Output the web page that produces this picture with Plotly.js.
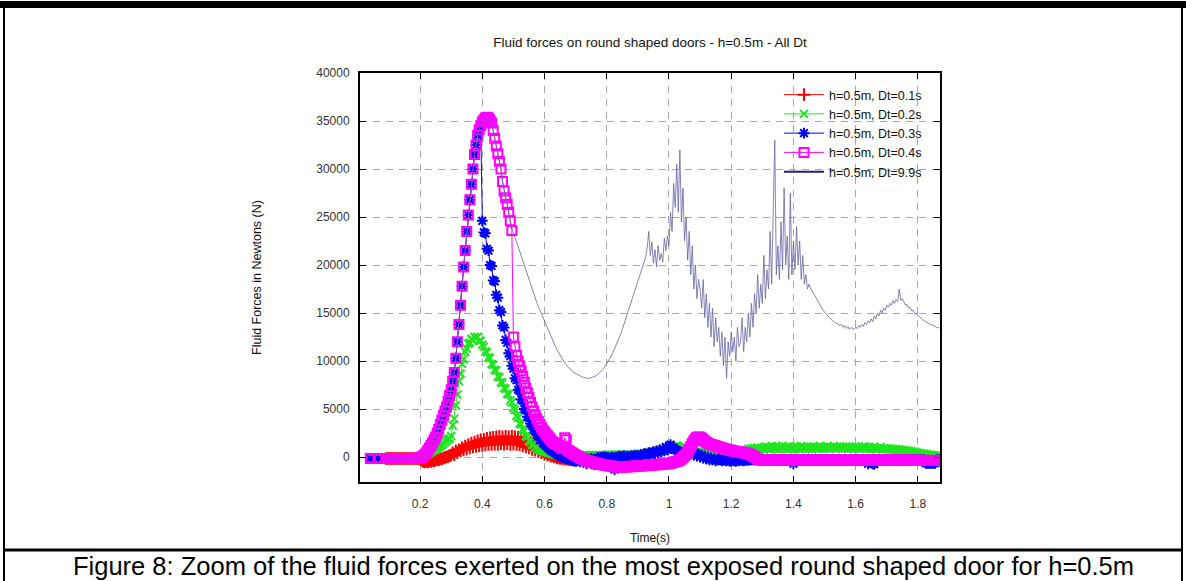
<!DOCTYPE html>
<html>
<head>
<meta charset="utf-8">
<script src="https://cdn.plot.ly/plotly-3.0.1.min.js"></script>
<style>
html,body{margin:0;padding:0;background:#ffffff;}
#chart{width:1186px;height:581px;}
</style>
</head>
<body>
<div id="chart"></div>
<script>
// ---- data (time samples start at timeStart, spaced by timeStep seconds) ----
const timeStart = 0.03;
const timeStep = 0.005;

const seriesNames = ["h=0.5m, Dt=0.1s", "h=0.5m, Dt=0.2s", "h=0.5m, Dt=0.3s", "h=0.5m, Dt=0.4s", "h=0.5m, Dt=9.9s"];

const xTickVals = [0.2, 0.4, 0.6, 0.8, 1.0, 1.2, 1.4, 1.6, 1.8];
const xTickText = ["0.2", "0.4", "0.6", "0.8", "1", "1.2", "1.4", "1.6", "1.8"];
const yTickVals = [0, 5000, 10000, 15000, 20000, 25000, 30000, 35000, 40000];
const yTickText = ["0", "5000", "10000", "15000", "20000", "25000", "30000", "35000", "40000"];

// Dt = 0.1 s (red)
const forceDt01 = [
null,null,null,null,null,null,null,null,null,null,null,null,-150,-150,
-150,-150,-150,-150,-150,-150,-150,-150,-150,-150,-150,-150,-150,-150,-150,-150,-150,-150,-150,-150,
-200,-350,-450,-500,-450,-500,-400,-450,-350,-400,-300,-250,-300,-150,-200,-100,-50,0,50,150,
200,450,250,650,450,750,650,950,750,1150,850,1300,950,1450,1050,1550,1100,1700,1150,1800,
1200,1850,1250,1950,1300,2000,1300,2050,1350,2100,1300,2150,1400,2100,1350,2150,1400,2100,1300,2150,
1350,2100,1300,2050,1250,2000,1150,1850,1050,1700,950,1500,800,1300,700,1050,550,800,450,600,
300,450,200,300,100,150,0,50,-100,-50,-150,-100,-200,-150,-250,-200,-300,-250,-300,-300,
-300
];

// Dt = 0.2 s (green)
const forceDt02 = [
null,null,null,null,null,null,null,null,null,null,null,null,-150,-150,
-150,-150,-150,-150,-150,-150,-150,-150,-150,-150,-150,-150,-150,-150,-150,-150,-150,-150,-150,-150,
-100,0,100,150,250,350,450,550,650,750,850,950,1050,1150,1250,1400,1550,1700,1850,1900,
2200,3300,4000,5400,6500,7900,8700,9700,10200,11000,11300,11800,11900,12300,12200,12500,12400,12500,12100,12100,
11700,11500,11000,10900,10400,10300,9700,9600,9100,9000,8400,8300,7800,7700,7200,7100,6600,6500,5900,5700,
5100,4900,4300,4100,3500,3400,2900,2700,2200,2100,1700,1600,1300,1250,1000,1000,800,800,650,650,
600,550,500,450,400,350,300,250,250,200,200,150,150,150,100,100,100,100,100,100,
150,200,150,200,150,200,150,200,150,200,150,200,150,200,150,200,150,200,150,200,
200,250,200,250,200,250,200,250,200,250,200,250,200,250,200,250,200,250,200,250,
300,300,350,350,400,400,450,450,500,500,550,550,600,600,650,650,700,700,800,800,
900,1000,1100,1000,1100,1200,1100,1000,900,800,700,700,600,600,500,500,500,500,500,500,
500,500,500,500,500,500,500,500,500,500,500,500,500,500,500,500,500,500,500,500,
450,450,450,450,450,450,450,450,450,450,700,850,750,900,800,950,850,1000,800,900,
950,800,1100,850,1050,800,1150,900,850,1100,800,1050,900,1150,850,1050,800,1100,900,850,
1050,850,1100,900,800,1150,850,1050,900,1100,850,1050,800,1100,900,1050,850,1150,900,850,
1050,900,1100,850,1050,900,1150,850,1050,900,1100,850,1050,900,1100,850,1050,900,1050,850,
1100,900,1050,850,1050,900,1100,850,900,1050,850,900,1050,850,900,850,1050,800,900,850,
900,800,900,750,850,750,850,700,800,650,750,600,700,550,650,500,600,450,550,400,
450,350,400,300,350,250,300,200,250,150,200,100,150,100,100
];

// Dt = 0.3 s (blue)
const forceDt03 = [
null,null,-150,null,null,null,null,-150,null,null,null,null,-150,-150,
-150,-150,-150,-150,-150,-150,-150,-150,-150,-150,-150,-150,-150,-150,-150,-150,-150,-150,-150,-150,
-100,0,100,250,450,700,950,1200,1500,1800,2100,2500,2900,3400,3850,4300,4800,5200,5800,6400,
7000,7900,8800,10300,12000,13800,15800,17800,19800,21500,23500,25200,26800,28400,30000,31500,32500,33500,34100,34500,
24600,23400,23300,21700,21500,20000,19900,18400,18300,16900,16600,15300,15100,13700,13500,12200,11900,10800,10500,9500,
9200,8200,8000,7000,6900,6000,5900,5000,4900,4200,4100,3500,3400,2900,2800,2300,2200,1800,1750,1450,
1300,1150,1000,850,700,600,500,400,300,200,100,0,-50,-100,-150,-200,-250,-300,-350,-400,
-450,-400,-300,-500,-350,-250,-400,-700,-200,-350,-150,-300,-800,-250,-50,-150,0,-100,50,-50,
-100,-50,-150,0,-50,-1300,-100,0,100,-50,50,150,0,100,-50,50,150,50,200,100,
150,50,250,150,350,200,300,450,250,400,550,350,650,450,750,550,850,650,1050,750,
1100,1300,900,1000,800,700,600,500,400,300,200,500,600,400,300,500,200,400,100,300,
0,200,-100,100,-200,0,-300,-100,-300,-200,-400,-300,-200,-300,-400,-300,-350,-400,-300,-450,
-400,-350,-400,-450,-350,-400,-300,-350,-400,-350,-300,-350,-300,-300,-300,-300,-300,-300,-300,-300,
-300,-300,-300,-300,-300,-300,-300,-300,-300,-300,-300,-300,-300,-300,-300,-300,-300,-300,-300,-300,
-700,-300,-300,-300,-300,-300,-300,-300,-300,-300,-300,-300,-300,-300,-300,-300,-300,-300,-300,-300,
-300,-300,-300,-300,-300,-300,-300,-300,-300,-300,-300,-300,-300,-300,-300,-300,-300,-300,-300,-300,
-300,-300,-300,-300,-300,-300,-300,-300,-700,-300,-300,-700,-750,-300,-300,-300,-300,-300,-300,-300,
-300,-300,-300,-300,-300,-300,-300,-300,-300,-300,-300,-300,-300,-300,-300,-300,-300,-300,-300,-300,
-300,-300,-300,-300,-300,-650,-650,-650,-650,-650,-650,-650,-300,-300,-300
];

// Dt = 0.4 s (magenta)
const forceDt04 = [
null,null,-150,null,null,null,null,-150,null,null,null,null,-150,-150,
-150,-150,-140,-150,-160,-150,-150,-140,-150,-150,-160,-150,-150,-140,-150,-150,-150,-140,-130,-120,
-100,0,100,250,450,700,950,1200,1500,1800,2100,2500,2900,3400,3850,4300,4800,5200,5800,6400,
7000,7900,8800,10300,12000,13800,15800,17800,19800,21500,23500,25200,26800,28400,30000,31500,32500,33500,34100,34500,
34900,35100,35300,35400,35300,35100,34800,34000,33200,32400,31600,30800,30000,28700,27700,27000,26300,25500,24600,23600,
12500,11500,10600,10000,9500,9000,8400,7800,7200,6700,6200,5700,5200,4800,4400,4000,3700,3400,3100,2800,
2600,2400,2200,2000,1800,1600,1500,1400,1300,1200,1100,1000,900,2000,1800,700,600,500,400,300,
200,100,0,-100,-150,-200,-300,-350,-400,-450,-500,-550,-600,-650,-700,-700,-750,-800,-800,-850,
-850,-900,-900,-950,-950,-1000,-1000,-1000,-1050,-1000,-1000,-1050,-1000,-1000,-1000,-950,-1000,-950,-950,-900,
-900,-950,-900,-900,-850,-900,-850,-850,-800,-850,-800,-800,-750,-800,-750,-750,-700,-750,-700,-700,
-700,-650,-600,-550,-500,-450,-400,-300,-200,-50,100,300,550,800,1100,1400,1700,1900,2050,2100,
2050,1950,1800,1650,1550,1450,1350,1300,1250,1200,1150,1100,1050,1000,950,900,850,800,750,700,
700,650,600,600,550,550,500,500,450,450,400,350,300,200,100,0,-100,-200,-250,-300,
-300,-320,-300,-280,-300,-310,-300,-290,-300,-320,-300,-300,-280,-300,-310,-300,-290,-300,-320,-300,
-300,-310,-290,-300,-320,-300,-280,-300,-310,-300,-300,-290,-310,-300,-320,-300,-300,-280,-300,-310,
-300,-320,-300,-290,-310,-300,-300,-320,-300,-280,-300,-310,-300,-300,-290,-310,-300,-320,-300,-300,
-310,-300,-290,-300,-320,-300,-300,-310,-300,-290,-300,-320,-300,-310,-300,-300,-290,-310,-300,-320,
-300,-310,-300,-320,-300,-330,-310,-320,-330,-320,-330,-340,-320,-330,-340,-330,-340,-350,-330,-340,
-340,-350,-340,-350,-360,-350,-340,-350,-360,-350,-350,-360,-350,-340,-350
];

// Dt = 9.9 s (navy line)
const forceDt99 = [
null,null,null,null,null,null,null,null,null,null,null,null,-100,-100,
-100,-100,-100,-100,-100,-100,-100,-100,-100,-100,-100,-100,-100,-100,-100,-100,-100,-100,-100,-100,
-100,0,100,250,450,700,950,1200,1500,1800,2100,2500,2900,3400,3850,4300,4800,5200,5800,6400,
7000,7900,8800,10300,12000,13800,15800,17800,19800,21500,23500,25200,26800,28400,30000,31500,32500,33500,34100,34500,
34900,35100,35300,35400,35300,35100,34800,34000,33200,32400,31600,30800,30000,28700,27700,27000,26300,25500,24600,23900,
23400,22900,22400,21900,21400,20900,20400,19900,19400,18900,18400,17900,17400,16900,16500,16100,15700,15300,14900,14500,
14100,13700,13300,12900,12500,12100,11800,11500,11200,10900,10600,10300,10000,9800,9600,9400,9200,9000,8900,8800,
8700,8600,8500,8400,8350,8300,8250,8200,8200,8200,8250,8300,8350,8450,8550,8700,8850,9000,9200,9450,
9700,9950,10250,10550,10900,11250,11600,12000,12400,12800,13300,13800,14300,14800,15300,15800,16300,16800,17300,17800,
18300,18800,19300,19800,20300,20800,21800,23500,21000,22400,20200,21600,19800,22000,20500,21200,20300,22800,21500,23000,
22000,25500,23500,28500,26000,30500,25500,32000,24500,28000,22500,25000,20500,23500,19000,22000,17500,20000,16500,18500,
17500,15500,18500,14500,17000,13500,16000,12500,15500,11500,14500,12000,13500,10500,13000,9500,12500,8200,12000,10500,
13000,11000,12500,10000,13500,11500,12000,14500,11000,13500,12000,15000,12500,16000,13500,17000,15000,19000,15500,18000,
16000,21000,16500,19500,17500,23500,18000,26000,33000,19000,22000,18500,24500,19500,28000,20000,23000,18500,27500,19000,
22500,19500,24000,20000,22500,18500,21000,18000,19000,17500,18000,17600,17300,17000,16800,16500,16200,15900,15600,15300,
15100,14900,14700,14500,14400,14200,14100,14000,13900,13800,13700,13800,13500,13700,13400,13600,13300,13500,13400,13300,
13500,13400,13700,13500,13800,13600,14000,13800,14200,14000,14400,14100,14700,14400,15000,14700,15300,15000,15500,15300,
15800,15600,16000,15800,16300,16000,16400,16200,17500,16300,16500,16100,15800,15900,15500,15600,15200,15300,14900,15000,
14700,14600,14400,14300,14200,14100,14000,13900,13800,13800,13700,13600,13500,13500,13400
];

// ---- figure ----
const FONT = "Liberation Sans, Arial, Helvetica, sans-serif";
const W = 1186, H = 581;
const M = {l: 360, r: 246, t: 73, b: 99};
const PW = W - M.l - M.r, PH = H - M.t - M.b;
// convert page pixels to paper fractions (for frame decorations & caption)
const px = v => (v - M.l) / PW;
const py = v => (H - M.b - v) / PH;

function pointTrace(name, y, color, symbol, size, lw) {
  return {
    type: "scatter", mode: "lines+markers", name: name,
    x0: timeStart, dx: timeStep, y: y,
    line: {color: color, width: 1},
    marker: {symbol: symbol, size: size, color: color, line: {color: color, width: lw}},
    connectgaps: false
  };
}

const traces = [
  pointTrace(seriesNames[0], forceDt01, "#ff0000", "cross-thin-open", 9, 2),
  pointTrace(seriesNames[1], forceDt02, "#1ee61e", "x-thin-open", 8, 2),
  pointTrace(seriesNames[2], forceDt03, "#0000ff", "asterisk-open", 9, 2),
  pointTrace(seriesNames[3], forceDt04, "#ff00ff", "square-open", 9, 2),
  {
    type: "scatter", mode: "lines", name: seriesNames[4], legendgroup: "d99", showlegend: false,
    x0: timeStart, dx: timeStep, y: forceDt99,
    line: {color: "#6565a6", width: 0.8}
  },
  {
    type: "scatter", mode: "lines", name: seriesNames[4], legendgroup: "d99",
    x: [null], y: [null],
    line: {color: "#1f2080", width: 2}
  }
];

const axisCommon = {
  showline: true, linecolor: "#000000", linewidth: 2, mirror: "ticks",
  ticks: "inside", ticklen: 6, tickcolor: "#000000", tickwidth: 1,
  showgrid: true, gridcolor: "#a8a8a8", gridwidth: 1, griddash: "7px,6px",
  zeroline: false,
  tickfont: {family: FONT, size: 12, color: "#333333"}
};

const layout = {
  width: W, height: H,
  margin: M,
  paper_bgcolor: "#ffffff", plot_bgcolor: "#ffffff",
  font: {family: FONT, color: "#000000"},
  title: {
    text: "Fluid forces on round shaped doors - h=0.5m - All Dt",
    font: {family: FONT, size: 13.5, color: "#111111"},
    x: 650 / W, xanchor: "center", y: 1 - 42 / H, yanchor: "middle"
  },
  xaxis: Object.assign({}, axisCommon, {
    range: [0.007, 1.871],
    tickmode: "array", tickvals: xTickVals, ticktext: xTickText,
    ticklabelstandoff: 10,
    title: {text: "Time(s)", font: {family: FONT, size: 12, color: "#111111"}, standoff: 23}
  }),
  yaxis: Object.assign({}, axisCommon, {
    range: [-2600, 40000],
    tickmode: "array", tickvals: yTickVals, ticktext: yTickText,
    ticklabelstandoff: 6,
    title: {text: "Fluid Forces in Newtons (N)", font: {family: FONT, size: 12.5, color: "#111111"}, standoff: 52}
  }),
  showlegend: true,
  legend: {
    x: px(927), xanchor: "right", y: py(80), yanchor: "top",
    bgcolor: "rgba(0,0,0,0)", borderwidth: 0,
    font: {family: FONT, size: 12.5, color: "#111111"},
    tracegroupgap: 0, itemwidth: 40
  },
  shapes: [
    // document frame (table cell borders around the figure)
    {type: "rect", xref: "paper", yref: "paper", x0: px(0), x1: px(W), y0: py(1), y1: py(8),
     fillcolor: "#000000", line: {width: 0}, layer: "above"},
    {type: "line", xref: "paper", yref: "paper", x0: px(4), x1: px(4), y0: py(8), y1: py(H),
     line: {color: "#000000", width: 2}},
    {type: "line", xref: "paper", yref: "paper", x0: px(1182), x1: px(1182), y0: py(8), y1: py(H),
     line: {color: "#000000", width: 2}},
    {type: "line", xref: "paper", yref: "paper", x0: px(4), x1: px(1182), y0: py(550), y1: py(550),
     line: {color: "#000000", width: 3}}
  ],
  annotations: [
    {text: "Figure 8: Zoom of the fluid forces exerted on the most exposed round shaped door for h=0.5m",
     xref: "paper", yref: "paper", x: px(603), y: py(566), xanchor: "center", yanchor: "middle",
     showarrow: false, font: {family: FONT, size: 25.5, color: "#000000"}}
  ]
};

Plotly.newPlot("chart", traces, layout, {displayModeBar: false, staticPlot: true});
</script>
</body>
</html>
